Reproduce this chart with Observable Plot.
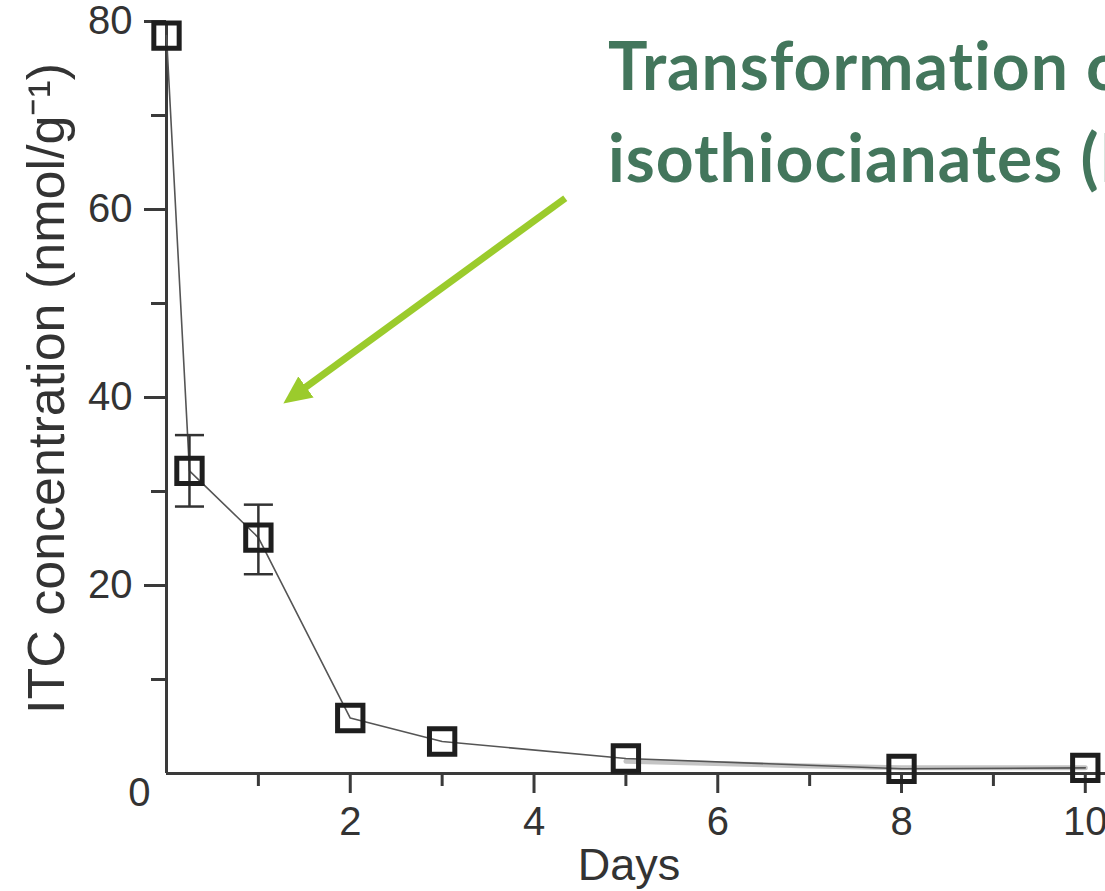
<!DOCTYPE html>
<html>
<head>
<meta charset="utf-8">
<script src="https://cdn.jsdelivr.net/npm/d3@7"></script>
<script src="https://cdn.jsdelivr.net/npm/@observablehq/plot@0.6"></script>
<style>
  html, body { margin: 0; padding: 0; background: #fff; overflow: hidden; }
  #wrap { position: relative; width: 1105px; height: 891px; overflow: hidden; }
  #title { position: absolute; left: 608px; top: 19px; white-space: nowrap;
    font-family: Lato, "Open Sans", sans-serif; font-weight: 700; font-size: 66px;
    letter-spacing: 1px; line-height: 92px; color: #43765c; }
</style>
</head>
<body>
<div id="wrap">
  <div id="chart"></div>
  <div id="title">Transformation of glucosinolates<br>isothiocianates (ITC)</div>
</div>
<script>
// Data
const days = [0, 0.25, 1, 2, 3, 5, 8, 10];
const itc = [78.5, 32.2, 25.1, 5.9, 3.4, 1.6, 0.5, 0.6];
const errDays = [0.25, 1];
const errLow = [28.4, 21.2];
const errHigh = [36.0, 28.6];
const faintDays = [5, 7, 8, 10];
const faintItc = [1.3, 0.8, 0.6, 0.6];
const xMajorTicks = [2, 4, 6, 8, 10];
const xMinorTicks = [1, 3, 5, 7, 9];
const yMajorTicks = [20, 40, 60, 80];
const yMinorTicks = [10, 30, 50, 70];
const arrowFrom = [4.34, 61.2];
const arrowTo = [1.43, 40.5];

const points = days.map((d, i) => ({day: d, v: itc[i]}));
const errs = errDays.map((d, i) => ({day: d, lo: errLow[i], hi: errHigh[i]}));
const faint = faintDays.map((d, i) => ({day: d, v: faintItc[i]}));
const capSymbol = { draw(ctx, size) { const w = Math.sqrt(size) / 2; ctx.moveTo(-w, 0); ctx.lineTo(w, 0); } };

const axisColor = "#3a3a3a";
const arrowColor = "#9bcb2c";
const chart = Plot.plot({
  width: 1105, height: 891,
  marginLeft: 166, marginRight: 0, marginTop: 21, marginBottom: 118,
  style: { fontFamily: "'Liberation Sans', Arial, sans-serif", background: "white", color: "#333" },
  x: { domain: [0, 10.22], axis: null },
  y: { domain: [0, 80], axis: null },
  marks: [
    Plot.line(faint, { x: "day", y: "v", stroke: "#c4c4c4", strokeWidth: 5 }),
    Plot.ruleX([0], { y1: 0, y2: 80, stroke: axisColor, strokeWidth: 3 }),
    Plot.ruleY([0], { stroke: axisColor, strokeWidth: 3 }),
    Plot.axisY({ ticks: yMajorTicks, tickSize: 22, tickPadding: 12, fontSize: 40, label: null, stroke: axisColor, strokeWidth: 3, fill: "#333" }),
    Plot.axisY({ ticks: yMinorTicks, tickSize: 15, tickFormat: () => "", label: null, stroke: axisColor, strokeWidth: 3 }),
    Plot.text(["0"], { x: 0, y: 0, text: d => d, dx: -16, dy: 20, textAnchor: "end", fontSize: 40, fill: "#333" }),
    Plot.axisX({ ticks: xMajorTicks, tickSize: 20, tickPadding: 13, fontSize: 40, label: null, stroke: axisColor, strokeWidth: 3, fill: "#333" }),
    Plot.axisX({ ticks: xMinorTicks, tickSize: 13, tickFormat: () => "", label: null, stroke: axisColor, strokeWidth: 3 }),
    Plot.text(["Days"], { frameAnchor: "bottom", dx: -7, dy: 106, fontSize: 45, fill: "#333" }),
    Plot.text(["ITC concentration (nmol/g⁻¹)"], { frameAnchor: "left", textAnchor: "middle", rotate: -90, dx: -119, dy: -9, fontSize: 52, fill: "#333" }),
    Plot.line(points, { x: "day", y: "v", stroke: "#555", strokeWidth: 1.6 }),
    Plot.ruleX(errs, { x: "day", y1: "lo", y2: "hi", stroke: "#333", strokeWidth: 2.5 }),
    Plot.dot(errs, { x: "day", y: "lo", symbol: capSymbol, r: 16.4, stroke: "#333", strokeWidth: 2.5, fill: "none" }),
    Plot.dot(errs, { x: "day", y: "hi", symbol: capSymbol, r: 16.4, stroke: "#333", strokeWidth: 2.5, fill: "none" }),
    Plot.dot(points, { x: "day", y: "v", symbol: "square", r: 14.3, stroke: "#1e1e1e", strokeWidth: 5, fill: "none" }),
    Plot.link([{}], { x1: () => arrowFrom[0], y1: () => arrowFrom[1], x2: () => arrowTo[0], y2: () => arrowTo[1], stroke: arrowColor, strokeWidth: 7 })
  ]
});

// filled arrow head
const svg = d3.select(chart);
svg.append("defs").append("marker")
  .attr("id", "ahead").attr("viewBox", "0 0 28 26").attr("refX", 10).attr("refY", 13)
  .attr("markerWidth", 28).attr("markerHeight", 26).attr("markerUnits", "userSpaceOnUse")
  .attr("orient", "auto")
  .append("path").attr("d", "M0,0L28,13L0,26Z").attr("fill", arrowColor).attr("stroke", "none");
svg.selectAll("path, line").filter(function() {
  const own = this.getAttribute("stroke");
  const par = this.parentNode && this.parentNode.getAttribute && this.parentNode.getAttribute("stroke");
  return (own === arrowColor || par === arrowColor) && !this.closest("marker");
}).attr("marker-end", "url(#ahead)");

document.getElementById("chart").appendChild(chart);
</script>
</body>
</html>
